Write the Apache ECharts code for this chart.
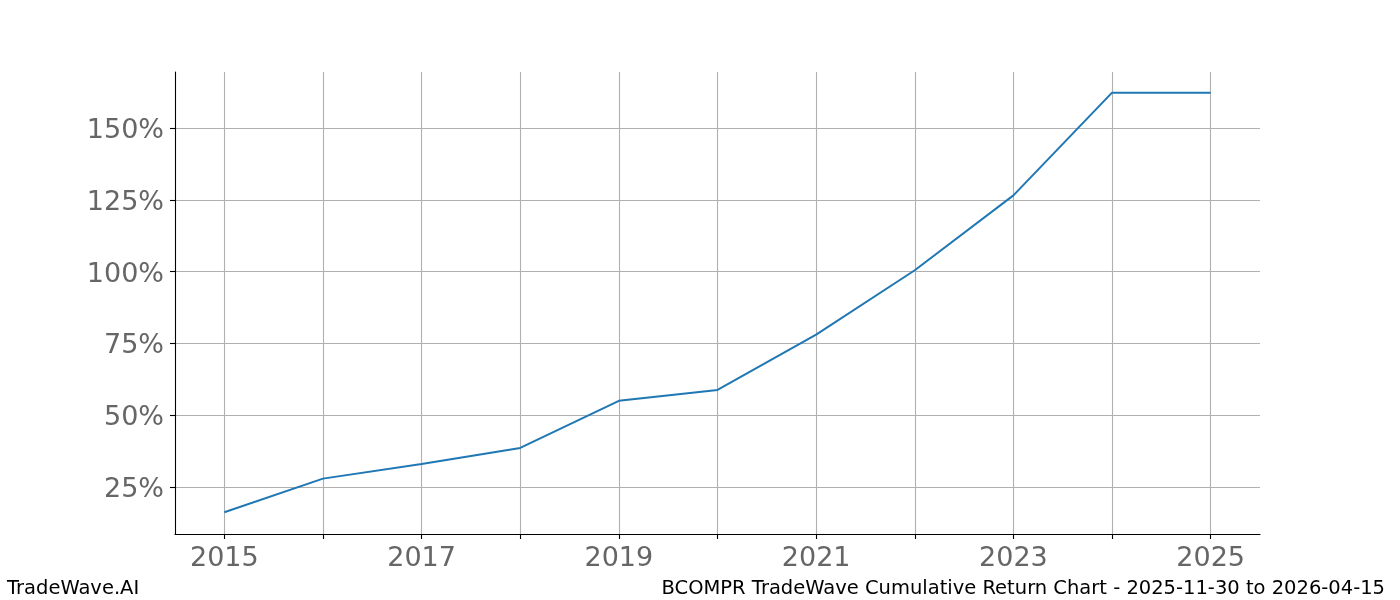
<!DOCTYPE html>
<html>
<head>
<meta charset="utf-8">
<script src="https://cdn.jsdelivr.net/npm/echarts@6/dist/echarts.min.js"></script>
<style>
html,body{margin:0;padding:0;background:#fff;}
#chart{width:1400px;height:600px;}
</style>
</head>
<body>
<div id="chart"></div>
<script>
const years = [2015, 2016, 2017, 2018, 2019, 2020, 2021, 2022, 2023, 2024, 2025];
const cumulativeReturn = [16.2, 27.9, 33.0, 38.6, 55.0, 58.8, 78.1, 100.5, 126.6, 162.4, 162.4];
const xTickYears = [2015, 2016, 2017, 2018, 2019, 2020, 2021, 2022, 2023, 2024, 2025];
const xLabelYears = [2015, 2017, 2019, 2021, 2023, 2025];
const yTicks = [25, 50, 75, 100, 125, 150];
const footerLeft = 'TradeWave.AI';
const footerRight = 'BCOMPR TradeWave Cumulative Return Chart - 2025-11-30 to 2026-04-15';

const chart = echarts.init(document.getElementById('chart'), null, {renderer: 'canvas'});
const font = 'DejaVu Sans';
chart.setOption({
  animation: false,
  backgroundColor: '#ffffff',
  grid: {left: 175, right: 140, top: 72, bottom: 66, containLabel: false},
  xAxis: {
    type: 'value',
    min: 2014.5,
    max: 2025.5,
    axisLine: {show: true, onZero: false, lineStyle: {color: '#000', width: 1.1}},
    axisTick: {show: true, customValues: xTickYears, length: 5, lineStyle: {color: '#000', width: 1.1}},
    axisLabel: {customValues: xLabelYears, margin: 11, color: '#666', fontSize: 27, fontFamily: font,
      formatter: v => String(v)},
    splitLine: {show: true, lineStyle: {color: '#b0b0b0', width: 1.1}}
  },
  yAxis: {
    type: 'value',
    min: 8.6,
    max: 169.6,
    axisLine: {show: true, onZero: false, lineStyle: {color: '#000', width: 1.1}},
    axisTick: {show: true, customValues: yTicks, length: 5, lineStyle: {color: '#000', width: 1.1}},
    axisLabel: {customValues: yTicks, margin: 11, color: '#666', fontSize: 27, fontFamily: font,
      formatter: v => '{p|' + v + '%}',
      rich: {p: {color: '#666', fontSize: 27, fontFamily: font, padding: [6, 0, 0, 0]}}},
    splitLine: {show: true, lineStyle: {color: '#b0b0b0', width: 1.1}}
  },
  series: [{
    type: 'line',
    data: years.map((y, i) => [y, cumulativeReturn[i]]),
    symbol: 'none',
    lineStyle: {color: '#1f77b4', width: 2},
    itemStyle: {color: '#1f77b4'}
  }],
  graphic: [
    {type: 'text', left: 7, top: 579, style: {text: footerLeft, fill: '#000', font: '19.5px "DejaVu Sans"'}},
    {type: 'text', right: 15, top: 579, style: {text: footerRight, fill: '#000', font: '19.5px "DejaVu Sans"'}}
  ]
});
</script>
</body>
</html>
